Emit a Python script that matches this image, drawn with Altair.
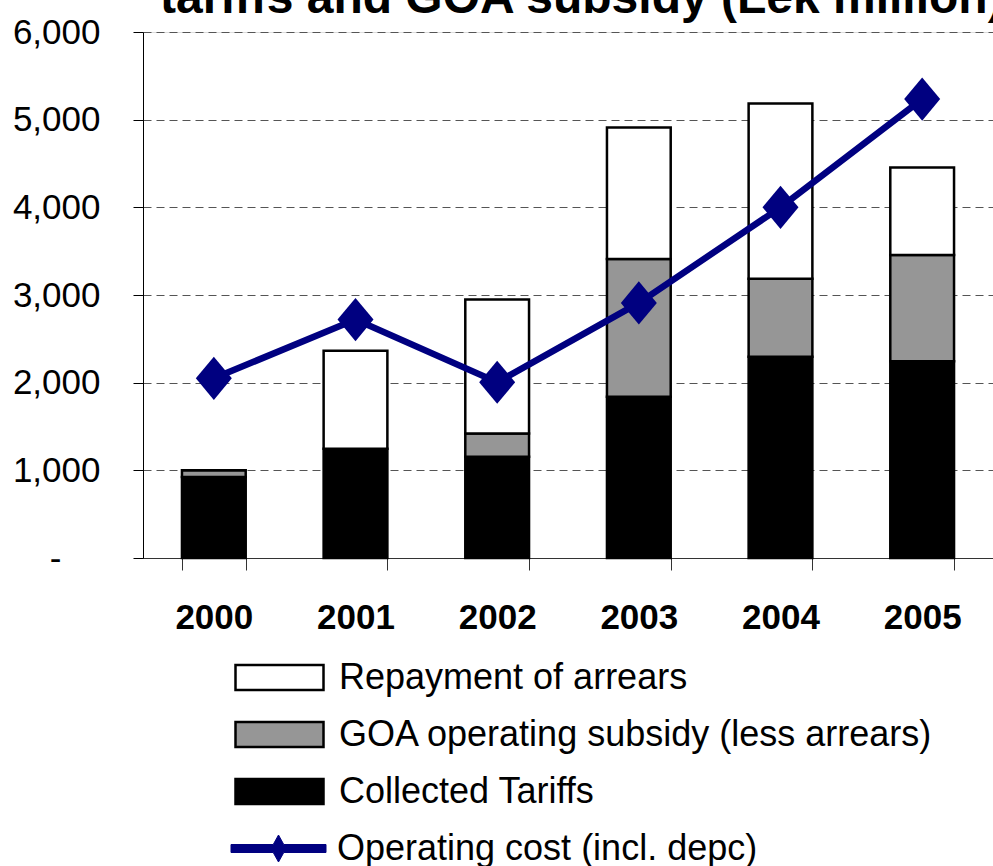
import altair as alt
import pandas as pd

years = ["2000", "2001", "2002", "2003", "2004", "2005"]
collected_tariffs = [925, 1245, 1155, 1840, 2295, 2245]
goa_subsidy = [75, 0, 265, 1570, 890, 1210]
repayment_arrears = [0, 1120, 1530, 1500, 2000, 1000]
operating_cost = [2050, 2720, 2005, 2910, 4000, 5235]

S_ARR = "Repayment of arrears"
S_GOA = "GOA operating subsidy (less arrears)"
S_TAR = "Collected Tariffs"
S_OPC = "Operating cost (incl. depc)"

bar_domain = [S_ARR, S_GOA, S_TAR]
bar_colors = ["#ffffff", "#969696", "#000000"]

rows = []
for i, y in enumerate(years):
    rows.append({"year": y, "series": S_TAR, "value": collected_tariffs[i], "ord": 0})
    rows.append({"year": y, "series": S_GOA, "value": goa_subsidy[i], "ord": 1})
    rows.append({"year": y, "series": S_ARR, "value": repayment_arrears[i], "ord": 2})
bars_df = pd.DataFrame(rows)
line_df = pd.DataFrame({"year": years, "value": operating_cost, "series": [S_OPC] * len(years)})

FONT = "Liberation Sans Narrow, Arial Narrow, Liberation Sans, Arial, sans-serif"
NAVY = "#000080"

rect_path = "M-2.2,-0.63L2.2,-0.63L2.2,0.63L-2.2,0.63Z"
line_path = ("M-2.375,-0.2L-0.264,-0.2L0,-0.675L0.264,-0.2L2.375,-0.2L2.375,0.2"
             "L0.264,0.2L0,0.675L-0.264,0.2L-2.375,0.2Z")
diamond_path = "M0,-1.2L1,0L0,1.2L-1,0Z"

common_legend = dict(
    title=None,
    orient="none",
    legendX=115,
    direction="vertical",
    labelFont=FONT,
    labelFontSize=36,
    labelColor="black",
    labelLimit=2000,
    labelOffset=38,
    symbolSize=1600,
    rowPadding=17,
    padding=0,
)

bar_legend = alt.Legend(
    legendY=624,
    symbolType=rect_path,
    symbolStrokeColor="black",
    symbolStrokeWidth=2.5,
    symbolOpacity=1,
    **common_legend,
)

line_legend = alt.Legend(
    legendY=796,
    symbolType=line_path,
    symbolFillColor=NAVY,
    symbolStrokeColor=NAVY,
    symbolStrokeWidth=1,
    symbolOpacity=1,
    **common_legend,
)

x_enc = alt.X(
    "year:N",
    sort=years,
    scale=alt.Scale(paddingInner=0.55, paddingOuter=0.275),
    axis=alt.Axis(
        title=None,
        labelAngle=0,
        labelFont=FONT,
        labelFontSize=35,
        labelFontWeight="bold",
        labelColor="black",
        labelPadding=30,
        tickBand="extent",
        tickSize=12,
        tickColor="#333333",
        domainColor="#333333",
        grid=False,
    ),
)

y_axis = alt.Axis(
    title=None,
    values=[0, 1000, 2000, 3000, 4000, 5000, 6000],
    labelExpr="datum.value == 0 ? '-' : format(datum.value, ',')",
    labelFont=FONT,
    labelFontSize=35,
    labelColor="black",
    labelPadding={"condition": {"test": "datum.value == 0", "value": 72}, "value": 33},
    tickSize=10,
    tickColor="black",
    domainColor="black",
    grid=True,
    gridDash=[8, 5],
    gridColor="#555555",
    gridWidth=1,
)

bars = alt.Chart(bars_df).mark_bar(stroke="black", strokeWidth=2.5, opacity=1).encode(
    x=x_enc,
    y=alt.Y("value:Q", stack="zero", scale=alt.Scale(domain=[0, 6000], nice=False), axis=y_axis),
    fill=alt.Fill("series:N", scale=alt.Scale(domain=bar_domain, range=bar_colors), legend=bar_legend),
    order=alt.Order("ord:Q", sort="ascending"),
)

line = alt.Chart(line_df).mark_line(strokeWidth=6.5).encode(
    x=alt.X("year:N", sort=years),
    y=alt.Y("value:Q"),
    stroke=alt.Stroke("series:N", scale=alt.Scale(domain=[S_OPC], range=[NAVY]), legend=line_legend),
)

points = alt.Chart(line_df).mark_point(filled=True, fill=NAVY, shape=diamond_path, size=1296, opacity=1).encode(
    x=alt.X("year:N", sort=years),
    y=alt.Y("value:Q"),
)

chart = alt.layer(bars, line, points).resolve_scale(fill="independent", stroke="independent").properties(
    width=850,
    height=526,
    autosize=alt.AutoSizeParams(type="none"),
    padding={"left": 143, "top": 32, "right": 0, "bottom": 308},
    title=alt.TitleParams(
        "tariffs and GOA subsidy (Lek million)",
        anchor="start",
        frame="group",
        font="Liberation Sans, Arial, sans-serif",
        fontSize=48,
        fontWeight="bold",
        color="black",
        baseline="alphabetic",
        dx=17,
        dy=55,
        offset=9,
    ),
).configure_view(stroke=None).configure(background="white")

chart.save("out.html", embed_options={"renderer": "svg", "actions": False})
